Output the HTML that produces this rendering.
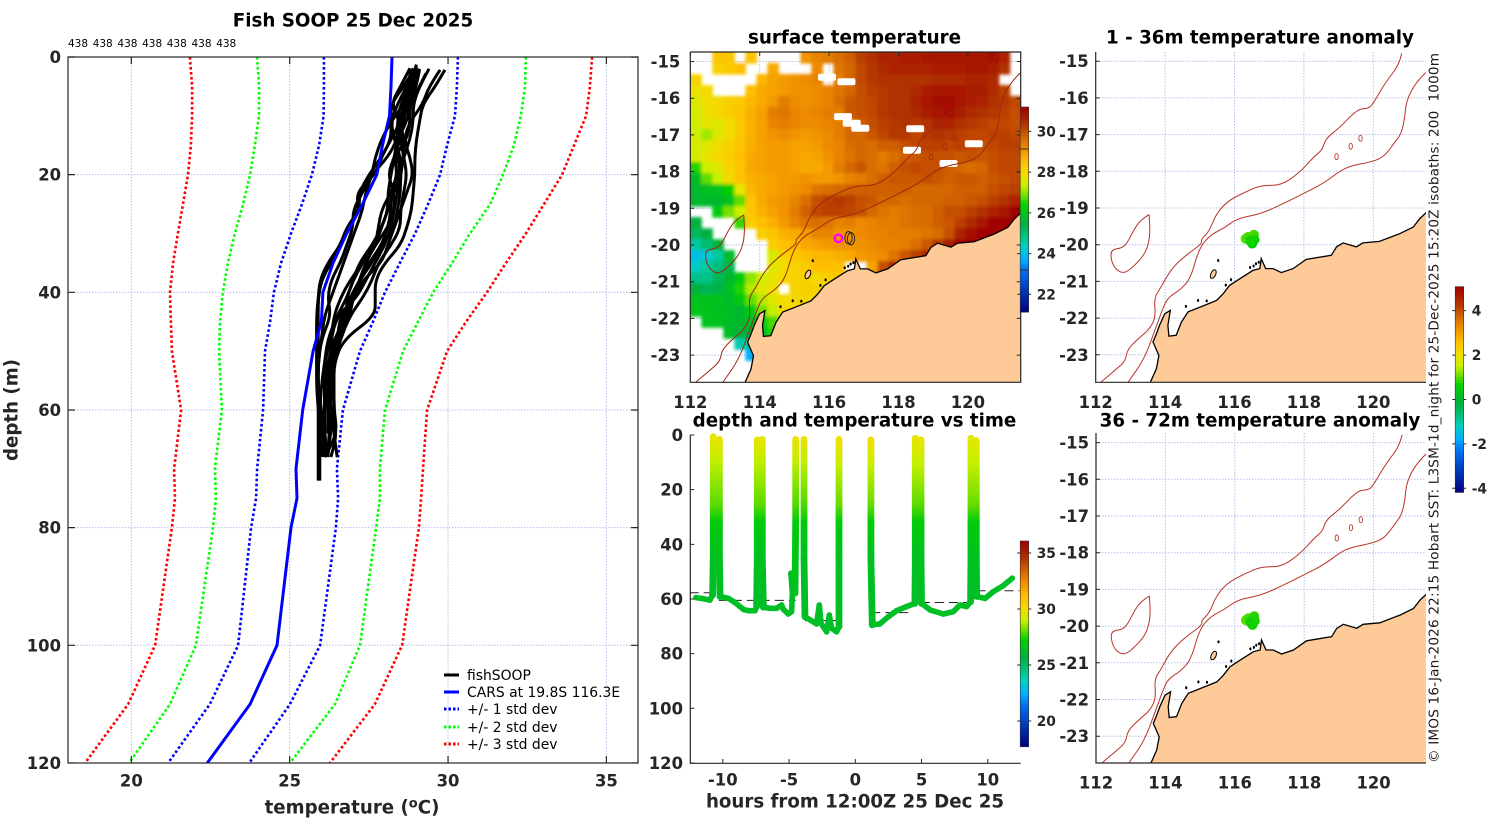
<!DOCTYPE html>
<html>
<head>
<meta charset="utf-8">
<title>Fish SOOP 25 Dec 2025</title>
<style>
html,body{margin:0;padding:0;background:#fff;}
svg{display:block;font-family:"DejaVu Sans","Liberation Sans",sans-serif;}
.tick{font-size:16.4px;font-weight:700;fill:#262626;}
.barlabel{font-size:13.8px;}
.title{font-size:18.3px;font-weight:700;fill:#000;}
.axis{font-size:18.2px;font-weight:700;fill:#262626;}
.leg{font-size:13.9px;fill:#000;}
</style>
</head>
<body>
<svg id="fig" width="1500" height="820" viewBox="0 0 1500 820" xmlns="http://www.w3.org/2000/svg">
  <defs>
    <filter id="soft" x="-2%" y="-2%" width="104%" height="104%"><feGaussianBlur stdDeviation="1.6"/></filter>
    <clipPath id="clip-sst"><rect x="690.3" y="52" width="330.4" height="330.3"/></clipPath>
    <clipPath id="clip-a1"><rect x="1095.7" y="52" width="330.3" height="330.3"/></clipPath>
    <clipPath id="clip-a2"><rect x="1096" y="433" width="330" height="330"/></clipPath>
    <clipPath id="clip-time"><rect x="690.3" y="432" width="330.4" height="331"/></clipPath>
    <clipPath id="clip-prof"><rect x="68" y="57" width="570" height="706"/></clipPath>
  </defs>
  <text class="title" x="353" y="26.5" text-anchor="middle">Fish SOOP 25 Dec 2025</text>
  <text class="title" x="854.5" y="43.5" text-anchor="middle">surface temperature</text>
  <text class="title" x="854.5" y="426.5" text-anchor="middle">depth and temperature vs time</text>
  <text class="title" x="1260" y="43.5" text-anchor="middle">1 - 36m temperature anomaly</text>
  <text class="title" x="1260" y="426.5" text-anchor="middle">36 - 72m temperature anomaly</text>
  <text class="axis" x="352" y="813.5" text-anchor="middle">temperature (<tspan dy="-6" font-size="13">o</tspan><tspan dy="6">C)</tspan></text>
  <text class="axis" transform="translate(17.5,410) rotate(-90)" text-anchor="middle">depth (m)</text>
  <text class="axis" x="855" y="807.5" text-anchor="middle">hours from 12:00Z 25 Dec 25</text>
  <text transform="translate(1438.5,763) rotate(-90)" font-size="13.6" fill="#1a1a1a" xml:space="preserve" textLength="710" lengthAdjust="spacing">© IMOS 16-Jan-2026 22:15 Hobart SST: L3SM-1d_night for 25-Dec-2025 15:20Z isobaths: 200  1000m</text>
  <g id="prof"></g>
  <g id="sst"></g>
  <g id="time"></g>
  <g id="a1"></g>
  <g id="a2"></g>
  <g>
    <line x1="444" x2="459" y1="675" y2="675" stroke="#000" stroke-width="3"/>
    <text class="leg" x="467" y="680">fishSOOP</text>
    <line x1="444" x2="459" y1="692" y2="692" stroke="#0000ff" stroke-width="3"/>
    <text class="leg" x="467" y="697">CARS at 19.8S 116.3E</text>
    <line x1="444" x2="459" y1="709" y2="709" stroke="#0000ff" stroke-width="3" stroke-dasharray="2.5 2"/>
    <text class="leg" x="467" y="714">+/- 1 std dev</text>
    <line x1="444" x2="459" y1="727" y2="727" stroke="#00ff00" stroke-width="3" stroke-dasharray="2.5 2"/>
    <text class="leg" x="467" y="732">+/- 2 std dev</text>
    <line x1="444" x2="459" y1="744" y2="744" stroke="#ff0000" stroke-width="3" stroke-dasharray="2.5 2"/>
    <text class="leg" x="467" y="749">+/- 3 std dev</text>
  </g>
</svg>
<script>
/* ---------- profile panel data ---------- */
const climDepths = [0,5,10,15,20,25,30,35,40,45,50,60,70,75,80,100,110,120];
const carsMean  = [28.23,28.2,28.15,27.93,27.75,27.3,26.8,26.37,26.05,26.0,25.74,25.41,25.2,25.23,25.04,24.6,23.75,22.4];
const minus1Std = [26.08,26.08,26.07,25.93,25.7,25.39,25.04,24.73,24.5,24.38,24.22,24.16,23.97,23.94,23.78,23.37,22.48,21.16];
const plus1Std  = [30.31,30.28,30.22,29.97,29.75,29.37,28.96,28.48,28.01,27.63,27.22,26.68,26.49,26.53,26.46,25.96,25.01,23.72];
const minus2Std = [23.97,24.03,24.03,23.9,23.75,23.53,23.27,23.05,22.89,22.8,22.77,22.86,22.64,22.67,22.58,22.04,21.22,19.93];
const plus2Std  = [32.46,32.43,32.3,32.08,31.74,31.33,30.69,30.13,29.53,29.05,28.58,28.01,27.85,27.85,27.73,27.22,26.43,25.01];
const minus3Std = [21.85,21.92,21.92,21.88,21.79,21.63,21.47,21.32,21.22,21.25,21.28,21.57,21.35,21.38,21.28,20.75,19.9,18.54];
const plus3Std  = [34.55,34.48,34.36,33.98,33.6,33.03,32.46,31.83,31.23,30.57,29.97,29.34,29.21,29.15,29.08,28.55,27.69,26.27];
const castDepths = [2,5,8,11,14,17,20,23,26,29,32,35,38,41,44,48,52,56,60,64,68,72];
const castTopDepths = [2.2,2.2,2.8,2,1.3,1.9,2,2.4,1.9,1.6,2.2,2,2.3,1.8];
const fishCasts = [
 [29.9,29.6,29.2,29.1,29,28.95,28.95,28.9,28.85,28.7,28.5,28,27.7,27.7,27.7,26.7,26.4,26.4,26.4,26.5,26.1],
 [29.75,29.4,29.2,28.8,28.6,28.8,28.9,28.7,28.5,28.3,28.1,27.9,27.3,27,26.8,26.5,26.3,26.3,26.3,26.5,26.3],
 [29.3,29.1,28.8,28.8,28.7,28.3,28.4,28.2,28.2,28.1,27.9,27.5,27.2,26.9,26.7,26.5,26.4,26.3,26.3,26.3,26.2],
 [29.1,28.9,28.7,28.4,28.5,28.3,28.1,28.3,28.3,28.1,27.7,27.4,27.2,27,26.6,26.5,26.4,26.2,26.1,26,26],
 [29,28.8,28.6,28.5,28.6,28.6,28.4,28.2,27.9,27.8,27.7,27.3,26.9,26.6,26.4,26.3,26.1,26.1,26.1,26],
 [28.9,28.7,28.4,28.2,28.3,28.5,28.5,28.3,28.1,27.9,27.7,27.3,27,26.8,26.5,26.2,26.1,26,25.95,26.05,26.2],
 [28.8,28.8,28.6,28.2,27.9,27.7,27.6,27.4,27.3,27.1,26.9,26.7,26.5,26.3,26.1,26,25.9,25.9,25.9,25.9,25.9,25.9],
 [28.9,28.6,28.2,28.2,28.2,27.9,27.5,27.2,27.2,26.8,26.6,26.3,26,25.9,25.9,25.9,25.9,25.9,25.95,25.95,25.95,25.95],
 [28.8,28.5,28.2,28.5,28.2,27.9,27.7,27.1,27.2,26.8,26.6,26.2,25.95,25.9,25.85,25.85,25.85,25.85,25.9,26,26.1],
 [29,28.8,28.5,28.4,28.4,28.1,27.6,27.3,27,27,26.8,26.6,26.3,26.2,26.3,26,25.9,25.9,26,26,25.9],
 [29.1,29,28.8,28.7,28.4,28.3,28.2,28.1,28.1,27.9,27.6,27.2,27,26.8,26.8,26.4,26.2,26.1,26.1,26.1,26.2],
 [29.4,29.1,28.9,28.9,28.8,28.6,28.5,28.5,28.4,28.3,27.9,27.6,27.2,27,26.9,26.5,26.2,26.2,26.3,26.4,26.5],
 [28.85,28.9,28.7,28.6,28.4,28.4,28.5,28.4,28.3,28.2,28,27.7,27.4,27.1,26.5,26.3,26.3,26.2,26.2,26.2],
 [29,28.9,28.8,28.5,28.5,28.6,28.7,28.6,28.5,28.5,28.2,27.8,27.6,27.3,26.9,26.6,26.4,26.3,26.25,26.25,26.2]
];
const tempTicks = [20,25,30,35];
const depthTicks = [0,20,40,60,80,100,120];
const castCounts = [438,438,438,438,438,438,438];

/* ---------- depth/temperature vs time data ---------- */
const trackHours = [-12.03,-11.47,-10.97,-10.77,-10.72,-10.72,-10.72,-10.72,-10.72,-10.26,-10.26,-10.26,-10.26,-10.26,-10.21,-9.58,-9.08,-8.45,-8.08,-7.57,-7.45,-7.4,-7.4,-7.4,-7.4,-7.4,-7.02,-7.02,-7.02,-7.02,-7.02,-6.94,-6.44,-5.94,-5.56,-5.43,-5.06,-4.81,-4.75,-4.86,-4.55,-4.5,-4.5,-4.5,-4.5,-3.87,-3.87,-3.87,-3.87,-3.87,-3.8,-3.3,-2.92,-2.72,-2.59,-2.16,-1.96,-1.79,-1.41,-1.23,-1.23,-1.23,-1.23,-1.23,-1.23,1.18,1.18,1.18,1.18,1.18,1.28,1.86,2.49,3.12,3.87,4.5,4.53,4.53,4.53,4.53,4.53,4.96,4.96,4.96,4.96,4.96,5,5.64,6.64,7.4,7.9,8.4,8.7,8.73,8.73,8.73,8.73,8.73,9.13,9.13,9.13,9.13,9.13,9.16,9.79,10.42,11.17,11.85];
const trackDepths = [59.5,59.9,60.4,58.5,45,32,25,10,0.6,1.6,10,25,32,45,59.1,59.8,61.3,63.8,64.3,64.3,62.8,45,32,25,10,1.8,1.6,10,25,32,45,63,63.4,63.4,62.2,63.8,65.5,64.6,57.9,50.6,57.9,32,25,10,1.6,1.6,10,25,32,45,66.5,68,69.1,62.2,68.9,72,65.9,70.7,72,70.1,45,32,25,10,1.6,1.8,10,25,32,45,69.5,69.1,66.5,64.3,62.8,61.6,45,32,25,10,1.2,1.8,10,25,32,45,61.6,64,65.5,64.6,62.2,62.8,61,45,32,25,10,1.2,2,10,25,32,45,59.1,59.8,57.3,55.1,52.4];
const trackTemps = [26.3,26.3,26.3,26.3,26.4,27,28,28.9,29.7,29.7,28.9,28,27,26.4,26.3,26.3,26.3,26.3,26.3,26.3,26.3,26.4,27,28,28.9,29.7,29.7,28.9,28,27,26.4,26.3,26.3,26.3,26.3,26.3,26.3,26.3,26.3,26.3,26.4,27,27.9,28.9,29.8,29.8,28.9,27.9,27,26.4,26.3,26.3,26.3,26.3,26.3,26.3,26.3,26.3,26.3,26.3,26.4,27,28.1,29.1,29.9,29.9,29.1,28.1,27,26.4,26.3,26.3,26.3,26.3,26.3,26.3,26.4,27,28,29,29.7,29.7,29,28,27,26.4,26.3,26.3,26.3,26.3,26.3,26.3,26.3,26.4,27,28.1,29,29.6,29.6,29,28.1,27,26.4,26.3,26.3,26.3,26.3,26.3];
const bottomHours = [[-12.5,-10.7],[-10.3,-4.5],[-3.8,-1.2],[1.2,4.3],[4.95,8.8],[9.15,12.4]];
const bottomDepths = [57.7,60.5,67.9,65,61.3,57];
const hourTicks = [-10,-5,0,5,10];
const timeDepthTicks = [0,20,40,60,80,100,120];

/* ---------- map data ---------- */
const n = null;
const sstRows = [
 [n,n,28.4,28.4,n,28.4,n,n,n,n,29.1,29.3,29.4,29.6,29.8,30.2,30.4,30.6,30.6,30.7,30.7,30.8,30.8,30.9,30.9,30.9,30.9,31,30.6,n],
 [n,n,28.1,28.3,28.5,n,n,28.8,n,n,n,29.2,n,29.5,29.7,30.1,30.3,30.5,30.6,30.6,30.6,30.6,30.7,30.7,30.7,30.8,30.9,30.7,30.4,n],
 [28.1,n,n,n,n,n,28.6,28.9,29,29.1,29.2,29.3,n,29.4,29.7,30.1,30.3,30.4,30.4,30.4,30.4,30.4,30.5,30.5,30.5,30.6,30.6,30.5,n,n],
 [27.8,28,n,n,n,28.5,28.8,28.9,29,29.1,29.1,29.2,29.3,29.5,29.7,30,30.2,30.3,30.4,30.4,30.5,30.7,30.8,30.8,30.8,30.7,30.7,30.5,30.2,n],
 [27.6,27.9,28,28.2,28.3,28.6,28.8,29,29.4,29.2,29.1,29.2,29.3,29.6,29.9,30,30.1,30.3,30.4,30.4,30.6,30.8,31,31,30.9,30.7,30.6,30.4,30.3,30.1],
 [27.5,27.8,28,28.2,28.4,28.7,28.9,29.4,29.5,29.3,29.2,29.3,29.4,29.4,29.9,30,30.1,30.3,30.4,30.4,30.5,30.7,30.9,31,30.7,30.5,30.4,30.3,30.2,30],
 [27.4,27.7,27.6,27.9,28.3,28.7,28.9,29.3,29.4,29.3,29.2,29.2,29.3,29.4,29.6,29.8,30,30.2,30.3,30.4,30.3,30.4,30.6,30.6,30.4,30.3,30.2,30.1,30.1,30],
 [27.4,27.1,27.6,27.9,28.3,28.7,28.9,29.1,29.2,29.1,29,29.1,29.2,29.4,29.7,29.7,29.9,30.1,30.3,30.3,30.1,30.3,30.4,30.3,30.2,30.1,30.1,30.2,30.2,30.1],
 [27.5,27.6,27.9,28.1,28.4,28.7,28.9,29,29,28.9,28.9,29,29.2,29.3,29.6,29.7,29.6,29.8,29.8,30,30.1,30.2,30.2,30.1,30.2,30.1,30,30.1,30.2,30.2],
 [27.5,27.7,28,28.2,28.5,28.8,28.9,29,29,28.9,28.8,28.9,29.1,29.3,29.5,29.7,29.6,29.4,29.6,29.8,29.9,30,30,30,29.9,30,29.9,30,30.1,30.1],
 [26.5,27.4,27.6,28.1,28.4,28.8,28.9,29,29,28.9,28.8,28.8,29,29.4,29.7,29.9,29.6,29.5,29.8,30,30.1,30,30,29.8,29.7,29.6,29.7,30,30.1,30.1],
 [25.8,26.8,27.3,28,28.4,28.7,28.8,28.9,29,29,29.1,29,29,29.1,29.3,29.4,29.6,29.8,29.9,29.9,29.9,30,29.9,29.8,29.9,29.9,29.8,29.9,30,30.1],
 [25.7,25.9,26,26.3,27.7,28.6,28.8,28.9,29,29.1,29.2,29.5,29.6,29.7,29.8,29.8,29.8,29.8,29.8,29.8,29.7,29.7,29.7,29.7,29.8,29.8,29.8,30,30.1,30.2],
 [25.7,25.7,25.7,26,26.8,28.4,28.8,29,29.1,29.3,29.6,30,30.2,30.3,30.2,30,29.9,29.7,29.7,29.6,29.7,29.7,29.7,29.8,29.8,29.9,30,30.2,30.4,30.6],
 [n,n,26.2,26.9,27.4,28.4,28.7,28.9,29.1,29.4,29.8,30.1,30.2,30.2,30.1,30,29.7,29.5,29.4,29.5,29.6,29.6,29.8,30,30,30.2,30.4,30.6,30.9,31.1],
 [25.5,n,n,n,26.6,28.2,28.5,28.7,29,29.3,29.5,29.6,29.5,29.3,29.4,29.2,29.3,29.4,29.4,29.5,29.6,29.6,29.8,29.9,30.2,30.5,30.8,31.1,31.1,31.1],
 [25.2,25.5,n,n,n,n,28.2,28.4,28.7,28.8,29,29.3,29.3,29.1,29.1,29.2,29.3,29.3,29.4,29.4,29.4,29.5,29.6,30,30.6,31,31.1,31.1,31.1,31.1],
 [24.6,25,25.6,n,n,n,n,28.2,28.5,28.6,28.8,28.9,29,29.1,29.1,29.1,29.2,29.3,29.3,29.4,29.6,29.9,30.3,30.7,31.1,31.1,31.1,31.1,31.1,31.1],
 [24,24.2,24.6,25.8,n,n,n,27.5,28.1,28.3,28.5,28.6,28.6,28.7,28.8,29,29.1,29.2,29.5,29.9,30.2,30.6,30.8,31,31.1,31.1,31.1,31.1,31.1,31.1],
 [24.3,24.6,24.9,25.3,n,n,n,27.6,27.9,28.1,28.3,28.5,28.5,28.5,n,n,28.9,30,30.6,30.9,31,31.1,31.1,31.1,31.1,31.1,31.1,31.1,31.1,31.1],
 [24.8,24.8,25.2,25.7,26.2,27,27.4,27.7,28,28.1,28.1,28,28.2,28.4,28.7,n,29.3,30.6,30.7,30.7,30.7,30.7,30.7,30.7,30.7,30.7,30.7,30.7,30.7,30.7],
 [25.5,25.3,25.4,25.9,26.5,27.2,27.6,27.8,n,28.1,28.2,28.1,27.9,28.3,29.3,29.9,30,30,30,30,30,30,30,30,30,30,30,30,30,30],
 [26,26,26,25.8,26.2,26.8,27.2,27.6,27.9,28,28.1,28,28.3,29,29,29,29,29,29,29,29,29,29,29,29,29,29,29,29,29],
 [26.1,26,25.9,25.8,25.7,26.2,26.9,27.3,28,27.9,28,28,28,28,28,28,28,28,28,28,28,28,28,28,28,28,28,28,28,28],
 [n,26,26,25.8,25.7,25.8,26.2,26.7,27.4,28,28,28,28,28,28,28,28,28,28,28,28,28,28,28,28,28,28,28,28,28],
 [n,n,n,25.8,25.5,25.5,25.9,26.5,27,28,28,28,28,28,28,28,28,28,28,28,28,28,28,28,28,28,28,28,28,28],
 [n,n,n,n,24.5,24.7,25.5,26,26,26,26,26,26,26,26,26,26,26,26,26,26,26,26,26,26,26,26,26,26,26],
 [n,n,n,n,n,23.7,24.5,25.5,26,26,26,26,26,26,26,26,26,26,26,26,26,26,26,26,26,26,26,26,26,26],
 [n,n,n,n,n,n,23.5,25.2,26,26,26,26,26,26,26,26,26,26,26,26,26,26,26,26,26,26,26,26,26,26],
 [n,n,n,n,n,n,n,n,n,n,n,n,n,n,n,n,n,n,n,n,n,n,n,n,n,n,n,n,n,n]
];
const cloudLons = [116.4,116.65,116.9,118.39,118.48,120.17,119.44,115.94,116.5];
const cloudLats = [-16.5,-16.68,-16.82,-17.42,-16.83,-17.24,-17.78,-15.43,-15.55];
const coastLons = [113.58,113.75,113.82,113.65,113.75,113.84,113.99,114.15,114.08,114.11,114.32,114.47,114.66,115.09,115.48,115.67,115.86,116.15,116.53,116.73,116.77,116.9,117.11,117.35,117.69,118.07,118.79,118.94,119.13,119.51,119.7,120.18,120.76,121.15,121.34,121.53];
const coastLats = [-23.74,-23.38,-23.02,-22.65,-22.43,-22.2,-21.88,-21.79,-22.2,-22.49,-22.47,-22.11,-21.83,-21.67,-21.52,-21.34,-21.11,-20.93,-20.7,-20.65,-20.38,-20.65,-20.65,-20.76,-20.65,-20.4,-20.29,-20.06,-19.95,-20.06,-19.95,-19.91,-19.7,-19.52,-19.29,-19.12];
const iso1000Lons = [120.82,120.74,120.36,119.97,119.83,119.54,119.01,118.63,118.53,118.29,117.86,117.33,116.76,116.27,115.79,115.46,115.27,115.03,115.07,114.55,114.16,113.87,113.68,113.73,113.54,113.25,112.91,112.86,112.58,112.19,112.1];
const iso1000Lats = [-14.79,-15.11,-15.56,-16.2,-16.29,-16.31,-16.83,-17.1,-17.42,-17.6,-18.05,-18.39,-18.38,-18.58,-18.82,-19.18,-19.64,-19.86,-19.97,-20.32,-20.68,-21.18,-21.45,-21.99,-22.31,-22.54,-22.85,-23.17,-23.4,-23.71,-23.8];
const iso200Lons = [121.51,120.98,120.87,120.6,120.31,119.97,119.35,119.01,118.58,118,117.43,116.76,116.08,115.7,115.31,114.98,114.74,114.45,114.07,113.92,113.68,113.39,112.96,112.9];
const iso200Lats = [-15.31,-15.79,-16.88,-17.24,-17.6,-17.74,-17.85,-18.01,-18.32,-18.6,-18.87,-19.16,-19.28,-19.55,-19.73,-20.09,-20.91,-21.22,-21.45,-21.77,-22.4,-23.13,-23.71,-23.8];
const isleLons = [113.54,113.3,113.1,112.91,112.77,112.43,112.45,112.58,112.82,113.1,113.44,113.57,113.54];
const isleLats = [-19.18,-19.32,-19.59,-19.95,-20.09,-20.14,-20.45,-20.68,-20.79,-20.59,-20.23,-19.77,-19.18];
const seamountLons = [118.94,119.35,119.63];
const seamountLats = [-17.6,-17.32,-17.1];
const reefLons = [115.53,116.45,116.55,116.62,116.7,114.6,114.95,115.2,115.75,115.9];
const reefLats = [-20.43,-20.62,-20.58,-20.52,-20.48,-21.68,-21.52,-21.53,-21.1,-20.95];
const fishLons = [116.32,116.39,116.56,116.58,116.51,116.45];
const fishLats = [-19.84,-19.79,-19.73,-19.86,-19.97,-19.89];
const anomaly1 = [1.0,0.9,0.9,0.7,0.6,0.7];
const anomaly2 = [1.0,0.9,0.8,0.75,0.7,0.7];
const trackLoopLons = [116.56,116.63];
const trackLoopLats = [-19.8,-19.83];
const lonTicks = [112,114,116,118,120];
const latTicks = [-15,-16,-17,-18,-19,-20,-21,-22,-23];
const sstBarTicks = [22,24,26,28,30];
const timeBarTicks = [20,25,30,35];
const anomBarTicks = [-4,-2,0,2,4];

/* ---------- helpers ---------- */
const NS = 'http://www.w3.org/2000/svg';
function mk(tag, attrs, parent){
  const e = document.createElementNS(NS, tag);
  for (const k in attrs) e.setAttribute(k, attrs[k]);
  parent.appendChild(e);
  return e;
}
const stops = [[0,0,0,127],[.12,0,64,192],[.2,0,112,240],[.26,0,176,255],[.32,0,208,192],[.37,0,192,128],[.43,0,176,64],[.52,0,208,0],[.575,128,224,0],[.615,200,240,0],[.665,240,224,0],[.73,255,192,0],[.795,240,144,0],[.86,208,96,0],[.92,176,48,0],[1,160,0,0]];
function cmap(f){
  f = Math.max(0, Math.min(1, f));
  for (let i = 1; i < stops.length; i++){
    if (f <= stops[i][0]){
      const a = stops[i-1], b = stops[i], u = (f-a[0])/(b[0]-a[0]);
      return 'rgb(' + [1,2,3].map(c => Math.round(a[c]+(b[c]-a[c])*u)).join(',') + ')';
    }
  }
  return 'rgb(160,0,0)';
}
const sstColor  = t => cmap((t-21.13)/(31.2-21.13));
const timeColor = t => cmap((t-17.7)/(36.07-17.7));
const anomColor = t => cmap((t+4.18)/(5.08+4.18));
function pathOf(xs, ys, fx, fy){
  return xs.map((v,i) => (i?'L':'M') + fx(v).toFixed(1) + ' ' + fy(ys[i]).toFixed(1)).join('');
}
function smoothOf(xs, ys, fx, fy){
  const px = xs.map(fx), py = ys.map(fy);
  let d = 'M' + px[0].toFixed(1) + ' ' + py[0].toFixed(1);
  for (let i = 1; i < px.length-1; i++){
    const mx = (px[i]+px[i+1])/2, my = (py[i]+py[i+1])/2;
    d += 'Q' + px[i].toFixed(1) + ' ' + py[i].toFixed(1) + ' ' + mx.toFixed(1) + ' ' + my.toFixed(1);
  }
  d += 'L' + px[px.length-1].toFixed(1) + ' ' + py[py.length-1].toFixed(1);
  return d;
}

/* ---------- profile panel ---------- */
const xT = t => 68 + (t-18)*31.67;
const yD = d => 57 + d*5.883;
const prof = document.getElementById('prof');

const profGridD = tempTicks.map(t => `M${xT(t)} 57V763`).join('') + depthTicks.slice(1,-1).map(d => `M68 ${yD(d)}H638`).join('');
const profGrid = mk('path',{d:profGridD,fill:'none',stroke:'#b4bfe8','stroke-width':1,'stroke-dasharray':'1.5 1.5'},prof);



const pClip = mk('g',{'clip-path':'url(#clip-prof)'},prof);



const stdSeries = [[minus3Std,'#ff0000','minus-3-std-line'],[minus2Std,'#00ff00','minus-2-std-line'],[minus1Std,'#0000ff','minus-1-std-line'],[plus1Std,'#0000ff','plus-1-std-line'],[plus2Std,'#00ff00','plus-2-std-line'],[plus3Std,'#ff0000','plus-3-std-line']];
stdSeries.forEach(s => {
  const l = mk('path',{d:pathOf(s[0],climDepths,xT,yD),fill:'none',stroke:s[1],'stroke-width':2.6,'stroke-dasharray':'2.6 2.4'},pClip);
  
  
});
fishCasts.forEach((c,i) => {
  const ds = castDepths.map((d,k) => k === 0 ? castTopDepths[i] : d);
  const l = mk('path',{d:smoothOf(c,ds.slice(0,c.length),xT,yD),fill:'none',stroke:'#000','stroke-width':3,'stroke-linejoin':'round'},pClip);
  
  
});
const carsLine = mk('path',{d:pathOf(carsMean,climDepths,xT,yD),fill:'none',stroke:'#0000ff','stroke-width':3},pClip);



const profFrame = mk('rect',{x:68,y:57,width:570,height:706,fill:'none',stroke:'#262626','stroke-width':1.2},prof);


const profTickD = tempTicks.map(t => `M${xT(t)} 763v-7M${xT(t)} 57v7`).join('') + depthTicks.map(d => `M68 ${yD(d)}h7M638 ${yD(d)}h-7`).join('');
const profTicks = mk('path',{d:profTickD,fill:'none',stroke:'#262626','stroke-width':1.2},prof);



function tickLabel(parent, x, y, txt, anchor, name){
  const e = mk('text',{x:x,y:y,class:'tick','text-anchor':anchor},parent);
  e.textContent = txt;
  
  
  return e;
}
tempTicks.forEach(t => tickLabel(prof,xT(t),786.5,String(t),'middle','x-tick-'+t));
depthTicks.forEach(d => tickLabel(prof,61,yD(d)+6,String(d),'end','y-tick-'+d));
castCounts.forEach((c,i) => {
  const e = mk('text',{x:68+i*24.7,y:47,'font-size':10.5,fill:'#000'},prof);
  e.textContent = String(c);
  
  
});

/* ---------- colorbars ---------- */
function colorbar(parent, x, top, bottom, loT, hiT, colorFn, ticks, prefix){
  const h = bottom-top, steps = 64;
  const g = mk('g',{},parent);
  
  
  for (let i = 0; i < steps; i++){
    const r = mk('rect',{x:x,y:(top+h*i/steps).toFixed(2),width:8.5,height:(h/steps+.4).toFixed(2),fill:colorFn(hiT-(hiT-loT)*(i+.5)/steps)},g);
    
    
  }
  const yV = t => top + (hiT-t)/(hiT-loT)*h;
  const fr = mk('rect',{x:x,y:top,width:8.5,height:h,fill:'none',stroke:'#333','stroke-width':.6},g);
  
  
  ticks.forEach(t => {
    const tk = mk('path',{d:`M${x-3} ${yV(t)}h3M${x+8.5} ${yV(t)}h2.5`,stroke:'#262626','stroke-width':1,fill:'none'},g);
    
    
    const lab = tickLabel(g,x+16.5,yV(t)+5,String(t),'start',prefix+'-colorbar-label-'+t);
    lab.setAttribute('class','tick barlabel');
  });
}

/* ---------- maps ---------- */
function drawMap(parent, cfg){
  const X = lon => cfg.x0 + (lon-112)*34.7;
  const Y = lat => cfg.y15 + (-15-lat)*36.7;
  const gridD = lonTicks.slice(1).map(l => `M${X(l)} ${cfg.top}V${cfg.bot}`).join('') + latTicks.map(l => `M${cfg.x0} ${Y(l)}H${cfg.right}`).join('');
  const grid = mk('path',{d:gridD,fill:'none',stroke:'#b4bfe8','stroke-width':1,'stroke-dasharray':'1.5 1.5'},parent);
  
  
  const g = mk('g',{'clip-path':`url(#${cfg.clip})`},parent);
  
  

  if (cfg.sst){
    const ras = mk('g',{filter:'url(#soft)'},g);
    
    
    const dLon = 330.4/30/34.7, dLat = 330.3/30/36.7, topLat = -15 + (cfg.y15-cfg.top)/36.7;
    sstRows.forEach((row,j) => row.forEach((v,i) => {
      if (v === null) return;
      const x = X(112+i*dLon), y = Y(topLat-j*dLat);
      const c = mk('rect',{x:(i===0?x-6:x).toFixed(1),y:(j===0?y-6:y).toFixed(1),width:11.6+(i===0||i===row.length-1?6:0),height:11.6+(j===0?6:0),fill:sstColor(v)},ras);
      
      
    }));
    cloudLons.forEach((lon,i) => {
      const c = mk('rect',{x:(X(lon)-9).toFixed(1),y:(Y(cloudLats[i])-3.5).toFixed(1),width:18,height:7,rx:2,fill:'#fff'},g);
      
      
    });
  }

  const landD = pathOf(coastLons,coastLats,X,Y) + `L${X(121.7)} ${Y(-19.09)}L${X(121.7)} ${Y(-23.9)}L${X(113.58)} ${Y(-23.9)}Z`;
  const land = mk('path',{d:landD,fill:'#fdca98',stroke:'#000','stroke-width':1.3},g);
  
  

  reefLons.forEach((lon,i) => {
    const r = mk('ellipse',{cx:X(lon).toFixed(1),cy:Y(reefLats[i]).toFixed(1),rx:1.1,ry:1.5,fill:'#000'},g);
    
    
  });
  const barrow = mk('ellipse',{cx:X(115.39).toFixed(1),cy:Y(-20.8).toFixed(1),rx:2.4,ry:4.6,fill:'#fdca98',stroke:'#000','stroke-width':1,transform:`rotate(25 ${X(115.39).toFixed(1)} ${Y(-20.8).toFixed(1)})`},g);
  
  

  const contourStroke = cfg.sst ? '#9c2a10' : '#b8342a';
  const c1000 = mk('path',{d:smoothOf(iso1000Lons,iso1000Lats,X,Y),fill:'none',stroke:contourStroke,'stroke-width':1},g);
  
  
  const c200 = mk('path',{d:smoothOf(iso200Lons,iso200Lats,X,Y),fill:'none',stroke:contourStroke,'stroke-width':1},g);
  
  
  const isle = mk('path',{d:smoothOf(isleLons,isleLats,X,Y),fill:'none',stroke:contourStroke,'stroke-width':1},g);
  
  
  seamountLons.forEach((lon,i) => {
    const s = mk('ellipse',{cx:X(lon).toFixed(1),cy:Y(seamountLats[i]).toFixed(1),rx:1.7,ry:3,fill:'none',stroke:contourStroke,'stroke-width':.9},g);
    
    
  });

  if (cfg.anom){
    fishLons.forEach((lon,i) => {
      const d = mk('circle',{cx:X(lon).toFixed(1),cy:Y(fishLats[i]).toFixed(1),r:5,fill:anomColor(cfg.anom[i])},g);
      
      
    });
  } else {
    trackLoopLons.forEach((lon,i) => {
      const lp = mk('ellipse',{cx:X(lon).toFixed(1),cy:Y(trackLoopLats[i]).toFixed(1),rx:3.6,ry:6.2,fill:'none',stroke:'#222','stroke-width':1},g);
      
      
    });
    const ring = mk('circle',{cx:X(116.27),cy:Y(-19.82),r:3.8,fill:'none',stroke:'#ff00ff','stroke-width':2.4},g);
    
    
  }

  const spineD = `M${cfg.x0} ${cfg.top}V${cfg.bot}H${cfg.right}` + (cfg.sst ? `V${cfg.top}H${cfg.x0}` : '');
  const spine = mk('path',{d:spineD,fill:'none',stroke:'#262626','stroke-width':1.2},parent);
  
  
  const tickD = latTicks.map(l => `M${cfg.x0} ${Y(l)}h4` + (cfg.sst ? `M${cfg.right} ${Y(l)}h-4` : '')).join('') + lonTicks.map(l => (cfg.sst ? `M${X(l)} ${cfg.top}v4` : '')).join('');
  const ticks = mk('path',{d:tickD,fill:'none',stroke:'#262626','stroke-width':1},parent);
  
  
  lonTicks.forEach(l => tickLabel(parent,X(l),cfg.bot+25.5,String(l),'middle','lon-tick-'+l));
  latTicks.forEach(l => tickLabel(parent,cfg.x0-cfg.gap,Y(l)+6,String(l),'end','lat-tick-'+l));
}
drawMap(document.getElementById('sst'),{x0:690.3,y15:61.5,top:52,bot:382.3,right:1020.7,clip:'clip-sst',sst:true,gap:10});
drawMap(document.getElementById('a1'),{x0:1095.7,y15:61.2,top:52,bot:382.3,right:1426,clip:'clip-a1',anom:anomaly1,gap:7});
drawMap(document.getElementById('a2'),{x0:1096,y15:442.6,top:433,bot:763,right:1426,clip:'clip-a2',anom:anomaly2,gap:7});
colorbar(document.getElementById('sst'),1020.2,107,312,21.13,31.2,sstColor,sstBarTicks,'sst');
colorbar(document.getElementById('a1'),1455.2,286.7,492.3,-4.18,5.08,anomColor,anomBarTicks,'anomaly');
const barLines = [149,270];
barLines.forEach(y => {
  const l = mk('line',{x1:1020,x2:1029,y1:y,y2:y,stroke:'#333','stroke-width':1},document.getElementById('sst'));
  
  
});

/* ---------- depth vs time panel ---------- */
const xH = h => 855.3 + h*13.25;
const yZ = d => 435 + d*2.733;
const timeG = document.getElementById('time');
const defs = document.querySelector('defs');
const tClip = mk('g',{'clip-path':'url(#clip-time)'},timeG);


bottomHours.forEach((pair,i) => {
  const l = mk('line',{x1:xH(pair[0]),x2:xH(pair[1]),y1:yZ(bottomDepths[i]),y2:yZ(bottomDepths[i]),stroke:'#222','stroke-width':1,'stroke-dasharray':'9 5'},tClip);
  
  
});
trackHours.forEach((h,i) => {
  if (i === 0) return;
  const d0 = trackDepths[i-1], d1 = trackDepths[i];
  if (d0 < 5 && d1 < 5) return;
  const x0 = xH(trackHours[i-1]), x1 = xH(h), y0 = yZ(d0), y1 = yZ(d1);
  const grad = mk('linearGradient',{id:'seg'+i,gradientUnits:'userSpaceOnUse',x1:x0,y1:y0,x2:x1,y2:y1},defs);
  mk('stop',{offset:'0','stop-color':timeColor(trackTemps[i-1])},grad);
  mk('stop',{offset:'1','stop-color':timeColor(trackTemps[i])},grad);
  const isSpike = d0 < 46 || d1 < 46;
  const seg = mk('path',{d:`M${x0.toFixed(1)} ${y0.toFixed(1)}L${(x1+.01).toFixed(2)} ${y1.toFixed(1)}`,fill:'none',stroke:`url(#seg${i})`,'stroke-width':isSpike?6.8:5.6,'stroke-linecap':'round'},tClip);
  
  
});
const tSpine = mk('path',{d:'M690.3 435V763.3H1020.7',fill:'none',stroke:'#262626','stroke-width':1.2},timeG);


const tTickD = hourTicks.map(h => `M${xH(h)} 763v-4`).join('') + timeDepthTicks.map(d => `M690.3 ${yZ(d)}h4`).join('');
const tTicks = mk('path',{d:tTickD,fill:'none',stroke:'#262626','stroke-width':1},timeG);


hourTicks.forEach(h => tickLabel(timeG,xH(h),785.5,String(h),'middle','hour-tick-'+h));
timeDepthTicks.forEach(d => tickLabel(timeG,683,yZ(d)+6,String(d),'end','time-depth-tick-'+d));
colorbar(timeG,1020.2,541,746.7,17.7,36.07,timeColor,timeBarTicks,'time-temperature');
</script>
</body>
</html>
